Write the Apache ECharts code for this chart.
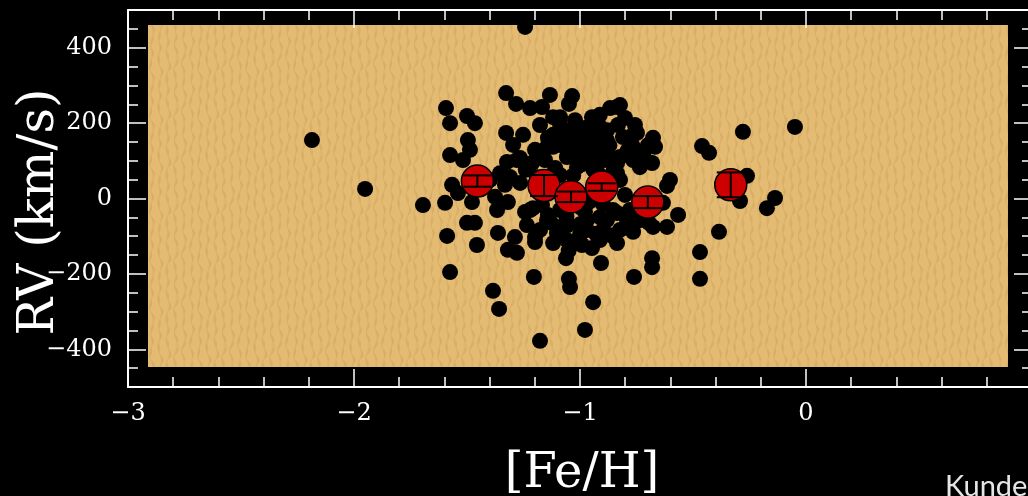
<!DOCTYPE html>
<html>
<head>
<meta charset="utf-8">
<script src="https://cdn.jsdelivr.net/npm/echarts@6/dist/echarts.min.js"></script>
<style>
  html, body { margin: 0; padding: 0; background: #000; }
  #chart { width: 1028px; height: 496px; }
</style>
</head>
<body>
<div id="chart"></div>
<script>
// Individual field stars: metallicity and radial velocity
const starFeH = [
  -2.186, -1.951, -1.695, -0.049, -0.279, -0.460, -0.429, -0.137, -0.173, -0.261,
  -0.292, -0.385, -0.469, -0.469, -0.681, -0.681, -0.761, -0.907, -0.942, -0.978,
  -1.177, -1.155, -1.066, -1.049, -1.044, -1.204, -1.385, -1.358, -1.575, -1.588,
  -1.456, -1.363, -1.319, -1.279, -1.500, -1.465, -1.597, -1.478, -1.367, -1.319,
  -1.235, -1.199, -1.199, -1.288, -1.208, -1.243, -1.327, -1.283, -1.221, -1.168,
  -1.133, -1.035, -1.049, -1.119, -1.088, -1.022, -0.947, -0.912, -0.867, -0.836,
  -0.801, -0.832, -0.912, -1.593, -1.575, -1.500, -1.465, -1.327, -1.252, -1.496,
  -1.487, -1.575, -1.518, -1.119, -1.044, -0.912, -0.765, -0.677, -0.668, -1.296,
  -1.265, -1.323, -1.279, -1.566, -1.540, -1.376, -1.354, -1.310, -1.265, -1.212,
  -1.142, -1.146, -1.058, -1.013, -1.102, -0.810, -0.748, -0.765, -0.765, -0.735,
  -0.681, -0.602, -0.615, -0.566, -0.615, -0.677, -1.119, -1.058, -1.013, -0.969,
  -0.881, -0.836, -0.854, -0.912, -0.969, -1.102, -1.177, -1.221, -1.119, -1.031,
  -0.912, -0.823, -1.053, -1.000, -0.947, -1.062, -0.898, -0.836, -0.881, -0.792,
  -0.765, -0.735, -0.956, -0.912, -0.823, -0.801, -0.735, -1.088, -1.155, -0.978,
  -1.088, -1.142, -0.934, -0.779, -0.633, -0.823, -0.823, -0.881, -0.836, -0.695,
  -1.398, -1.332, -1.168, -1.000, -0.836, -1.146, -1.102, -1.058, -0.991, -0.969,
  -1.243, -1.199, -1.177, -0.978, -1.088, -0.757,
  -1.010, -0.960, -1.080, -0.990, -0.940, -1.030, -0.870, -1.110, -0.850, -0.960,
  -1.000, -0.900, -1.060, -0.930, -0.980, -0.860, -1.130, -1.050,
  -0.790, -0.760, -0.850, -0.720, -0.900, -1.240, -1.190, -0.980, -1.020,
  -0.950, -0.880, -0.740, -0.700, -1.060, -1.000, -0.720, -1.090
];
const starRV = [
   154,   24,  -19,  189,  176,  138,  120,    0,  -27,   59,
    -8,  -90, -144, -215, -160, -184, -210, -173, -277, -351,
  -380, -460, -460, -215, -237, -210, -247, -295, -197, -101,
  -125,  -93, -138, -146,  -66,  -66,  -13,  -11,  -32,  -11,
   -72, -104, -117, -104,  -27,  455,  279,  250,  239,  242,
   274,  271,  250,  215,  215,  207,  215,  221,  239,  242,
   213,  194,  189,  239,  199,  218,  199,  173,  168,  154,
   128,  114,  101,  168,  173,  162,  168,  160,  136,  141,
   106,   96,  101,   35,   13,    3,   66,   56,   40,   93,
   160,  136,  176,  176,  154,  162,  173,  136,  101,   82,
    93,   48,   32,  -45,  -77,  -77,  136,  109,   82,  146,
   120,   93,  -32,  -51,  -85,  -77,  -85,  -32, -120, -120,
  -112,  -85,  -72,  -98, -133, -160,  -85, -120,  -59,  -59,
   -90,  -59,  101,   61,   48,    8,  -19,   61,  101,  -37,
   -32,  -45,  128,  -32,  -13,  247,  109,  154,   66,  -66,
    48,   35,  -19,  -24,  -40,  -59,  -93, -112, -125,  -59,
   -37,  128,  194,  186,  194,  194,
   130,  115,  140,   90,   75,   60,  140,   80,   70,  -10,
   -70,  -15,  -50,  -95,  -80, -100,  -65, -140,
   125,  110,   80,  115,  100,   75,   55,  -20,  120,
   170,  180,  120,  140,  140,  150,  -40,  -90
];

// Binned means with velocity uncertainties
const binFeH   = [-1.454, -1.159, -1.040, -0.904, -0.700, -0.333];
const binRV    = [45, 33, 3, 29, -11, 35];
const binRVErr = [15, 28, 14, 10, 16, 33];

// Labelled ticks
const xTickLabels = [-3, -2, -1, 0];

const minusFmt = v => (v < 0 ? '\u2212' + Math.abs(v) : String(v));
const xFmt = v => (xTickLabels.indexOf(v) >= 0 ? minusFmt(v) : '');

// Wood-grain fill for the inner panel
function makeGrain() {
  const c = document.createElement('canvas');
  c.width = 48; c.height = 96;
  const g = c.getContext('2d');
  g.fillStyle = '#E4BB73';
  g.fillRect(0, 0, 48, 96);
  g.fillStyle = 'rgba(196,146,76,0.32)';
  for (let k = 0; k < 6; k++) {
    const ph = k * 1.9;
    for (let y = 0; y < 96; y++) {
      const off = 1.2 * Math.sin(2 * Math.PI * y / 24 + ph) + 0.8 * Math.sin(2 * Math.PI * y / 48 + ph * 0.7);
      const w = 1.7 + 0.9 * Math.sin(2 * Math.PI * y / 12 + ph * 1.3);
      g.fillRect(3 + 8 * k + off, y, w, 1);
    }
  }
  return c;
}

const white = '#ffffff';
const labelFont = { color: white, fontFamily: 'DejaVu Serif', fontSize: 24 };
const tickLine = { color: white, width: 1.5 };

// Outer frame: x axes with major/minor ticks, y axes with 50 km/s ticks
function frameX(pos, showLabels) {
  return {
    gridIndex: 0, type: 'value', position: pos, min: -3, max: 1, interval: 1,
    axisLine: { show: true, onZero: false, lineStyle: { color: white, width: 2 } },
    axisTick: { show: true, inside: true, length: 18, lineStyle: tickLine },
    minorTick: { show: true, splitNumber: 5, length: 10, lineStyle: tickLine },
    splitLine: { show: false },
    axisLabel: Object.assign({ show: showLabels, margin: 15, formatter: xFmt }, labelFont)
  };
}
function frameYMinor(pos) {
  return {
    gridIndex: 0, type: 'value', position: pos, min: -500, max: 500, interval: 50,
    axisLine: { show: true, onZero: false, lineStyle: { color: white, width: 2 } },
    axisTick: { show: true, inside: true, length: 10, lineStyle: tickLine },
    splitLine: { show: false },
    axisLabel: { show: false }
  };
}
// Labelled y ticks every 200 km/s, on a band spanning -400..400
function frameYMajor(pos, showLabels) {
  return {
    gridIndex: 2, type: 'value', position: pos, min: -400, max: 400, interval: 200,
    axisLine: { show: false, onZero: false },
    axisTick: { show: true, inside: true, length: 18, lineStyle: tickLine },
    splitLine: { show: false },
    axisLabel: Object.assign({ show: showLabels, margin: 16, formatter: minusFmt }, labelFont)
  };
}

const chart = echarts.init(document.getElementById('chart'), null, { renderer: 'canvas' });

chart.setOption({
  animation: false,
  backgroundColor: '#000000',
  grid: [
    { left: 128, top: 10, right: -4, bottom: 109, outerBoundsMode: 'none', containLabel: false },
    { left: 148, top: 25, right: 20, bottom: 129, outerBoundsMode: 'none', containLabel: false },
    { left: 128, top: 47.7, right: -4, bottom: 146.7, outerBoundsMode: 'none', containLabel: false }
  ],
  xAxis: [
    frameX('bottom', true),
    frameX('top', false),
    { gridIndex: 1, type: 'value', min: -2.9115, max: 0.8938, show: false },
    { gridIndex: 2, type: 'value', min: -3, max: 1, show: false }
  ],
  yAxis: [
    frameYMinor('left'),
    frameYMinor('right'),
    frameYMajor('left', true),
    frameYMajor('right', false),
    { gridIndex: 1, type: 'value', min: -449.5, max: 460, show: false }
  ],
  graphic: [
    {
      type: 'rect', left: 148, top: 25, z: -1, silent: true,
      shape: { width: 860, height: 342 },
      style: { fill: { image: makeGrain(), repeat: 'repeat' } }
    },
    {
      type: 'text', x: 40, y: 212, rotation: Math.PI / 2, silent: true,
      style: { text: 'RV (km/s)', font: '50px "DejaVu Serif"', fill: white,
        align: 'center', verticalAlign: 'middle', textAlign: 'center', textVerticalAlign: 'middle' }
    },
    {
      type: 'text', x: 582, y: 475, silent: true,
      style: { text: '[Fe/H]', font: '48px "DejaVu Serif"', fill: white,
        align: 'center', verticalAlign: 'middle', textAlign: 'center', textVerticalAlign: 'middle' }
    },
    {
      type: 'text', x: 945, y: 472, silent: true,
      style: { text: 'Kunde', font: '29px Lato', fill: '#e6e6e6',
        align: 'left', verticalAlign: 'top', textAlign: 'left', textVerticalAlign: 'top' }
    }
  ],
  series: [
    {
      type: 'scatter', xAxisIndex: 2, yAxisIndex: 4, clip: true, z: 2,
      symbol: 'circle', symbolSize: 16,
      itemStyle: { color: '#000000', opacity: 1 },
      data: starFeH.map((x, i) => [x, starRV[i]])
    },
    {
      type: 'scatter', xAxisIndex: 2, yAxisIndex: 4, clip: true, z: 3,
      symbol: 'circle', symbolSize: 32,
      itemStyle: { color: '#CC0000', borderColor: '#000000', borderWidth: 1.5, opacity: 1 },
      data: binFeH.map((x, i) => [x, binRV[i]])
    },
    {
      type: 'custom', xAxisIndex: 2, yAxisIndex: 4, z: 4,
      data: binFeH.map((x, i) => [x, binRV[i], binRVErr[i]]),
      renderItem: function (params, api) {
        const x = api.value(0), y = api.value(1), e = api.value(2);
        const hi = api.coord([x, y + e]);
        const lo = api.coord([x, y - e]);
        const cap = 14;
        const st = { stroke: '#000000', lineWidth: 2 };
        return {
          type: 'group',
          children: [
            { type: 'line', shape: { x1: hi[0], y1: hi[1], x2: lo[0], y2: lo[1] }, style: st },
            { type: 'line', shape: { x1: hi[0] - cap, y1: hi[1], x2: hi[0] + cap, y2: hi[1] }, style: st },
            { type: 'line', shape: { x1: lo[0] - cap, y1: lo[1], x2: lo[0] + cap, y2: lo[1] }, style: st }
          ]
        };
      }
    }
  ]
});
</script>
</body>
</html>
